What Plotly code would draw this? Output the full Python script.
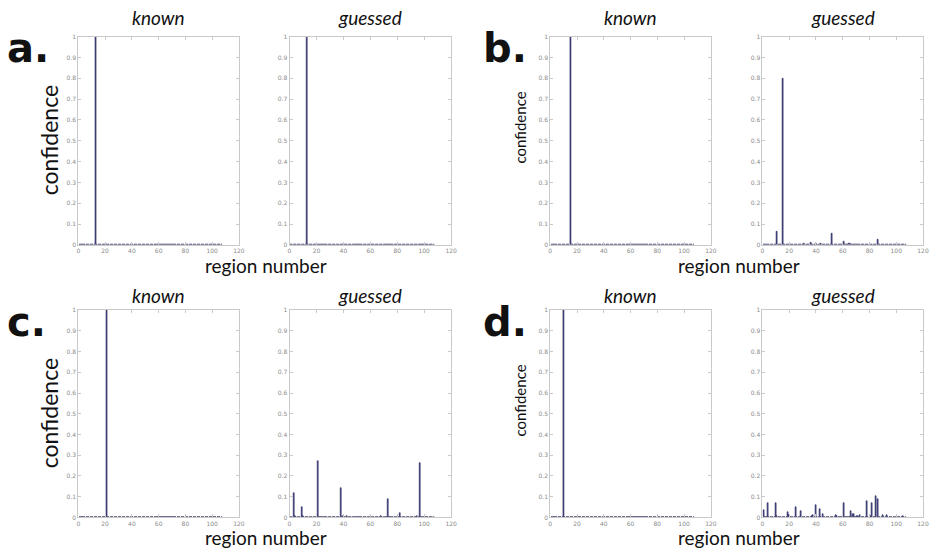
import numpy as np
import plotly.graph_objects as go

# ---- data: confidence per region (regions 1..107) ----
N_REGIONS = 107
regions = np.arange(1, N_REGIONS + 1)

# panel a
a_known = {13: 1.0}
a_guessed = {13: 1.0}

# panel b
b_known = {15: 1.0}
b_guessed = {11: 0.062, 15: 0.80, 19: 0.003, 31: 0.005, 36: 0.009, 40: 0.005,
             41: 0.003, 44: 0.007, 52: 0.056, 61: 0.016, 65: 0.007, 67: 0.003,
             71: 0.002, 80: 0.002, 86: 0.027, 91: 0.002, 100: 0.002}

# panel c
c_known = {21: 1.0}
c_guessed = {3: 0.117, 4: 0.005, 9: 0.048, 10: 0.006, 15: 0.002, 21: 0.27,
             26: 0.002, 28: 0.002, 30: 0.002, 34: 0.004, 38: 0.141, 40: 0.005,
             43: 0.006, 45: 0.003, 51: 0.002, 53: 0.002, 68: 0.005, 73: 0.089,
             80: 0.004, 82: 0.021, 95: 0.005, 97: 0.263, 100: 0.001, 104: 0.001}

# panel d
d_known = {10: 1.0}
d_guessed = {1: 0.037, 4: 0.067, 10: 0.070, 11: 0.007, 19: 0.024, 20: 0.012,
             25: 0.049, 29: 0.032, 37: 0.006, 38: 0.012, 40: 0.060, 43: 0.041,
             45: 0.014, 48: 0.003, 51: 0.004, 55: 0.010, 56: 0.007, 58: 0.004,
             61: 0.068, 66: 0.032, 68: 0.015, 71: 0.006, 73: 0.011, 78: 0.079,
             81: 0.006, 82: 0.070, 85: 0.102, 86: 0.089, 90: 0.012, 93: 0.012,
             95: 0.002, 103: 0.002, 105: 0.008}

panel_letters = ["a.", "b.", "c.", "d."]
col_titles = ["known", "guessed"]
x_ticks = [0, 20, 40, 60, 80, 100, 120]
y_ticks = [0, 0.1, 0.2, 0.3, 0.4, 0.5, 0.6, 0.7, 0.8, 0.9, 1]
y_ticktext = ["0", "0.1", "0.2", "0.3", "0.4", "0.5", "0.6", "0.7", "0.8", "0.9", "1"]

panels = [(a_known, a_guessed), (b_known, b_guessed),
          (c_known, c_guessed), (d_known, d_guessed)]

W, H = 932, 553
BAR_FILL = "#4b4b8f"
BAR_EDGE = "#26265a"
FRAME = "#c9c9c9"
TICKFONT = dict(family="DejaVu Sans", size=6, color="#8a8a8a")
TEXTFONT = "Lato, 'Open Sans', sans-serif"

# axis pixel boxes: (left, right) per column, (top, bottom) per row
col_px = [(77, 239), (290, 453), (553, 715), (767, 929)]
row_px = [(33, 244), (310, 520)]
title_offset = [19, 15]


def full_series(d):
    return [d.get(int(r), 0.0) for r in regions]


fig = go.Figure()
annotations = []
k = 0
for p, (known, guessed) in enumerate(panels):
    prow = p // 2
    pcol = p % 2
    for j, series in enumerate((known, guessed)):
        k += 1
        c = pcol * 2 + j
        xl, xr = col_px[c]
        yt, yb = row_px[prow]
        xa = "x" if k == 1 else f"x{k}"
        ya = "y" if k == 1 else f"y{k}"
        # baseline under the bars
        fig.add_trace(go.Scatter(
            x=[regions[0] - 0.4, regions[-1] + 0.4], y=[0, 0], mode="lines",
            line=dict(color="#9a9ab0", width=1), xaxis=xa, yaxis=ya,
            showlegend=False, hoverinfo="skip"))
        fig.add_trace(go.Bar(
            x=regions, y=full_series(series), width=0.8,
            marker=dict(color=BAR_FILL, line=dict(color=BAR_EDGE, width=0.6)),
            xaxis=xa, yaxis=ya, showlegend=False))
        axcommon = dict(showline=True, linecolor=FRAME, linewidth=1, mirror="ticks",
                        ticks="inside", ticklen=3, tickcolor=FRAME, showgrid=False,
                        zeroline=False, tickfont=TICKFONT)
        fig.layout[("xaxis" if k == 1 else f"xaxis{k}")] = dict(
            domain=[xl / W, xr / W], anchor=ya, range=[0, 120],
            tickvals=x_ticks, **axcommon)
        fig.layout[("yaxis" if k == 1 else f"yaxis{k}")] = dict(
            domain=[1 - yb / H, 1 - yt / H], anchor=xa, range=[0, 1],
            tickvals=y_ticks, ticktext=y_ticktext, **axcommon)
        # column title
        annotations.append(dict(
            text=f"<i>{col_titles[j]}</i>", x=(xl + xr) / 2 / W,
            y=1 - (yt - title_offset[prow]) / H,
            xref="paper", yref="paper", showarrow=False, xanchor="center", yanchor="middle",
            font=dict(family=TEXTFONT, size=19, color="#111")))

    # shared x label for the panel
    yb = row_px[prow][1]
    xlab = ((col_px[pcol * 2][1] + col_px[pcol * 2 + 1][0]) / 2 + 2) / W
    if prow == 0:
        annotations.append(dict(
            text="region number", x=xlab, y=1 - (yb + 8) / H,
            xref="paper", yref="paper", showarrow=False, borderpad=0,
            xanchor="center", yanchor="top",
            font=dict(family=TEXTFONT, size=19, color="#111")))
    else:
        annotations.append(dict(
            text="region number", x=xlab, y=0,
            xref="paper", yref="paper", showarrow=False, borderpad=0,
            xanchor="center", yanchor="bottom",
            font=dict(family=TEXTFONT, size=19, color="#111")))
    # y label
    yt, yb = row_px[prow]
    big = pcol == 0
    annotations.append(dict(
        text="confidence", x=(47 if pcol == 0 else 522) / W,
        y=1 - ((yt + yb) / 2 + (0 if big else -13)) / H,
        xref="paper", yref="paper", showarrow=False, textangle=-90,
        xanchor="center", yanchor="middle",
        font=dict(family=TEXTFONT, size=23 if big else 15, color="#111")))
    # panel letter
    annotations.append(dict(
        text=f"<b>{panel_letters[p]}</b>", x=(3 if pcol == 0 else 483) / W,
        y=1 - (yt + 12) / H, xref="paper", yref="paper", showarrow=False,
        xanchor="left", yanchor="middle",
        font=dict(family="'DejaVu Sans', sans-serif", size=40, color="#111")))

fig.update_layout(
    width=W, height=H, margin=dict(l=0, r=0, t=0, b=0),
    paper_bgcolor="white", plot_bgcolor="white",
    bargap=0, annotations=annotations)

fig.write_html("out.html")
